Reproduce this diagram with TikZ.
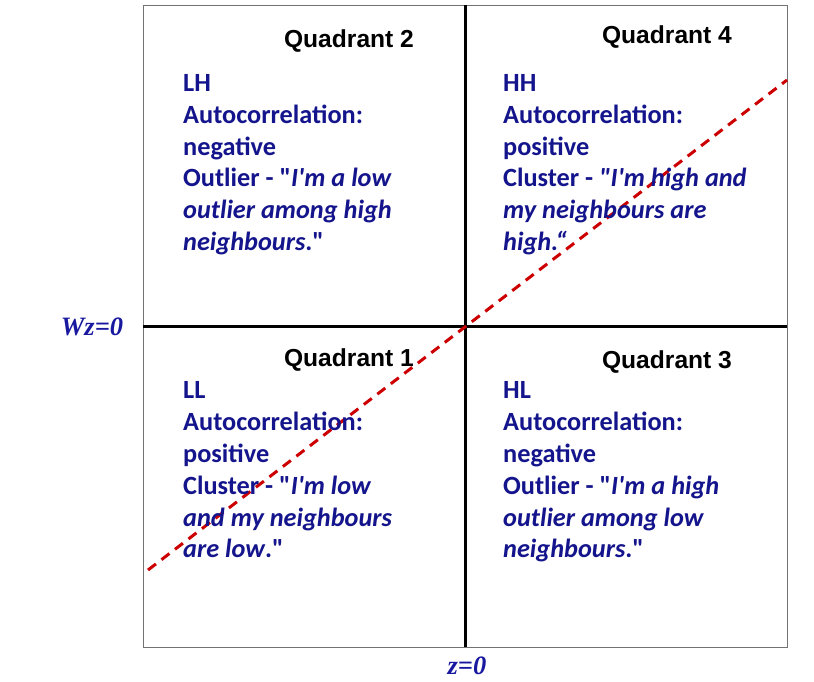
\documentclass[tikz,border=0pt]{standalone}
\usepackage{fontspec}
\setmainfont{Carlito}[Ligatures=TeXOff]
\newfontfamily\arialf{Liberation Sans}
\newfontfamily\timesf{Liberation Serif}
\definecolor{txtblue}{RGB}{20,20,140}
\definecolor{axblue}{RGB}{25,25,160}
\definecolor{dashred}{RGB}{204,0,0}
\begin{document}
\begin{tikzpicture}[x=1pt,y=-1pt,
  qlabel/.style={font=\arialf\bfseries\fontsize{24.6}{28}\selectfont, inner sep=0pt, anchor=base},
  qtext/.style={font=\bfseries\fontsize{26.3}{31.8}\selectfont, text=txtblue, align=left, inner sep=0pt, anchor=north west},
  axlabel/.style={font=\timesf\bfseries\itshape\fontsize{26.5}{30}\selectfont, text=axblue, inner sep=0pt, anchor=base},
  frame/.style={draw=black!55, line width=1pt},
  axis/.style={draw=black, line width=3pt},
  diag/.style={draw=dashred, line width=3pt, dash pattern=on 10pt off 7pt}]
\useasboundingbox (0,0) rectangle (814,681);
\coordinate (tl) at (143,5);
\coordinate (br) at (787,647);
\coordinate (top) at (465,5);
\coordinate (bot) at (465,647);
\coordinate (lft) at (143,326);
\coordinate (rgt) at (787,326);
\coordinate (d1) at (148,570);
\coordinate (d2) at (787,80);
\draw[frame] (tl) rectangle (br);
\draw[axis] (top) -- (bot);
\draw[axis] (lft) -- (rgt);
\draw[diag] (d1) -- (d2);
\node[qlabel] (q2) at (349,47) {Quadrant 2};
\node[qlabel] (q4) at (667,43) {Quadrant 4};
\node[qlabel] (q1) at (349,366) {Quadrant 1};
\node[qlabel] (q3) at (667,368) {Quadrant 3};
\node[qtext] (t2) at (183,74.2) {LH\\Autocorrelation:\\negative\\Outlier - "\textit{I'm a low}\\\textit{outlier among high}\\\textit{neighbours}."};
\node[qtext] (t4) at (503,74.2) {HH\\Autocorrelation:\\positive\\Cluster - \textit{"I'm high and}\\\textit{my neighbours are}\\\textit{high.“}};
\node[qtext] (t1) at (183,381.6) {LL\\Autocorrelation:\\positive\\Cluster - "\textit{I'm low}\\\textit{and my neighbours}\\\textit{are low}."};
\node[qtext] (t3) at (503,381.6) {HL\\Autocorrelation:\\negative\\Outlier - "\textit{I'm a high}\\\textit{outlier among low}\\\textit{neighbours}."};
\node[axlabel] (wz) at (92,335) {Wz=0};
\node[axlabel] (z) at (467,674) {z=0};
\end{tikzpicture}
\end{document}
